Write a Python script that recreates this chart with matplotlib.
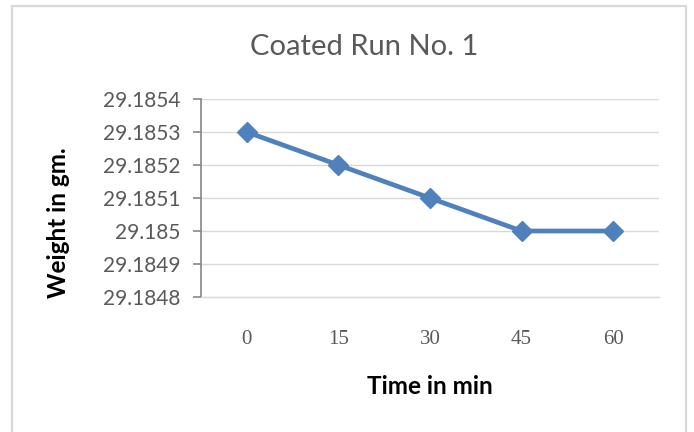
import matplotlib.pyplot as plt
from matplotlib.patches import Rectangle

time_labels = ["0", "15", "30", "45", "60"]
weights = [29.1853, 29.1852, 29.1851, 29.1850, 29.1850]
y_ticks = [29.1848, 29.1849, 29.1850, 29.1851, 29.1852, 29.1853, 29.1854]
y_tick_labels = ["29.1848", "29.1849", "29.185", "29.1851", "29.1852", "29.1853", "29.1854"]

W, H = 694, 432
SANS = "Lato"
GRAY = "#595959"


def main():
    fig = plt.figure(figsize=(W / 100, H / 100), dpi=100)
    fig.patch.set_facecolor("white")

    # chart area frame (Excel style)
    fig.patches.append(Rectangle((12 / W, -0.05), 674 / W, 1.05 - 6 / H,
                                 transform=fig.transFigure, fill=False,
                                 edgecolor="#d9d9d9", linewidth=1.6))

    ax = fig.add_axes([201 / W, 1 - 297 / H, 458 / W, 198 / H])
    x = list(range(len(time_labels)))
    ax.plot(x, weights, color="#4f81bd", linewidth=3.4, marker="D",
            markersize=10, zorder=3)

    ax.set_xlim(-0.5, len(time_labels) - 0.5)
    ax.set_ylim(y_ticks[0], y_ticks[-1])
    ax.set_yticks(y_ticks)
    ax.set_yticklabels(y_tick_labels, fontfamily=SANS, fontsize=15, color=GRAY)
    ax.set_xticks(x)
    ax.set_xticklabels(time_labels, fontfamily="Liberation Serif", fontsize=15, color=GRAY)

    ax.grid(axis="y", color="#d9d9d9", linewidth=1)
    ax.set_axisbelow(True)
    for s in ["top", "right"]:
        ax.spines[s].set_visible(False)
    ax.spines["left"].set_color("#868686")
    ax.spines["left"].set_linewidth(1.2)
    ax.spines["bottom"].set_color("#d9d9d9")
    ax.spines["bottom"].set_linewidth(1)
    ax.tick_params(axis="y", length=5.5, width=1.2, color="#868686", pad=9)
    ax.tick_params(axis="x", length=0, pad=24)

    fig.text(364 / W, 1 - 47 / H, "Coated Run No. 1", ha="center", va="center",
             fontfamily=SANS, fontsize=21, color=GRAY)
    fig.text(58 / W, 1 - 223 / H, "Weight in gm.", ha="center", va="center",
             rotation=90, fontfamily=SANS, fontweight="bold", fontsize=17.5)
    fig.text(430 / W, 1 - 387 / H, "Time in min", ha="center", va="center",
             fontfamily=SANS, fontweight="bold", fontsize=17.5)

    fig.savefig("out.png", dpi=100)
    plt.close(fig)


if __name__ == "__main__":
    main()
